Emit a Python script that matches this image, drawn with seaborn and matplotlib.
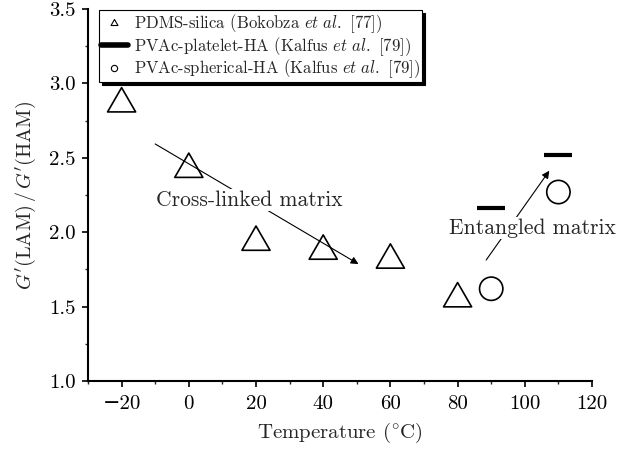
import numpy as np
import pandas as pd
import matplotlib
matplotlib.use("Agg")
import matplotlib.pyplot as plt
import seaborn as sns
from matplotlib.lines import Line2D
from matplotlib.path import Path
from matplotlib.ticker import MultipleLocator

# ---- data ----
pdms_temp = [-20, 0, 20, 40, 60, 80]
pdms_ratio = [2.89, 2.45, 1.96, 1.90, 1.84, 1.58]
platelet_temp = [90, 110]
platelet_ratio = [2.16, 2.52]
spherical_temp = [90, 110]
spherical_ratio = [1.62, 2.27]

labels = [r"PDMS-silica (Bokobza $\mathit{et\ al.}$ [77])",
          r"PVAc-platelet-HA (Kalfus $\mathit{et\ al.}$ [79])",
          r"PVAc-spherical-HA (Kalfus $\mathit{et\ al.}$ [79])"]
xticks = [-20, 0, 20, 40, 60, 80, 100, 120]
yticks = [1.0, 1.5, 2.0, 2.5, 3.0, 3.5]

sns.set_style("ticks")
plt.rcParams["font.family"] = ["cmr10", "DejaVu Serif"]
plt.rcParams["mathtext.fontset"] = "cm"
plt.rcParams["axes.unicode_minus"] = True

fig = plt.figure(figsize=(6.18, 4.51), dpi=100)
ax = fig.add_axes([88 / 618, 1 - 381 / 451, 504 / 618, 372 / 451])

tri = Path([(-1, -0.866), (1, -0.866), (0, 0.866), (-1, -0.866)],
           [Path.MOVETO, Path.LINETO, Path.LINETO, Path.CLOSEPOLY])

sns.scatterplot(x=pdms_temp, y=pdms_ratio, ax=ax, marker=tri, s=408,
                color="black", facecolor="none", edgecolor="black",
                linewidth=1.2, zorder=5)
sns.scatterplot(x=platelet_temp, y=platelet_ratio, ax=ax, marker="_", s=380,
                color="black", linewidth=3.0, zorder=5)
sns.scatterplot(x=spherical_temp, y=spherical_ratio, ax=ax, marker="o", s=282,
                color="black", facecolor="none", edgecolor="black",
                linewidth=1.2, zorder=5)

# arrows and labels
ax.annotate("", xy=(50.5, 1.786), xytext=(-10, 2.593),
            arrowprops=dict(arrowstyle="-|>", lw=0.8, color="black",
                            mutation_scale=11, shrinkA=0, shrinkB=0), zorder=3)
ax.text(18, 2.216, "Cross-linked matrix", ha="center", va="center", fontsize=15.5,
        bbox=dict(fc="white", ec="none", pad=1), zorder=4)
ax.annotate("", xy=(107.3, 2.413), xytext=(88.5, 1.813),
            arrowprops=dict(arrowstyle="-|>", lw=0.8, color="black",
                            mutation_scale=11, shrinkA=0, shrinkB=0), zorder=3)
ax.text(102.4, 2.026, "Entangled matrix", ha="center", va="center", fontsize=15.5,
        bbox=dict(fc="white", ec="none", pad=1), zorder=4, clip_on=False)

ax.set_xlim(-30, 120)
ax.set_ylim(1.0, 3.5)
ax.set_xticks(xticks)
ax.set_yticks(yticks)
ax.set_yticklabels([f"{v:.1f}" for v in yticks])
ax.xaxis.set_minor_locator(MultipleLocator(10))
ax.yaxis.set_minor_locator(MultipleLocator(0.25))
ax.tick_params(axis="both", which="major", direction="out", length=4, width=1.2,
               labelsize=15, colors="black")
ax.tick_params(axis="x", which="major", pad=6)
ax.tick_params(axis="y", which="major", pad=5)
ax.tick_params(axis="both", which="minor", direction="out", length=2.5, width=1.0)

for side in ["top", "right"]:
    ax.spines[side].set_visible(False)
for side in ["left", "bottom"]:
    ax.spines[side].set_linewidth(1.5)
    ax.spines[side].set_color("black")

ax.set_xlabel(r"Temperature ($^{\circ}$C)", fontsize=15, labelpad=6)
ax.set_ylabel(r"$G'(\mathrm{LAM})\,/\,G'(\mathrm{HAM})$", fontsize=14.5, labelpad=8)

handles = [
    Line2D([], [], marker=tri, markersize=5, markerfacecolor="none",
           markeredgecolor="black", markeredgewidth=0.8, linestyle="none"),
    Line2D([], [], color="black", lw=4),
    Line2D([], [], marker="o", markersize=4.5, markerfacecolor="none",
           markeredgecolor="black", markeredgewidth=0.8, linestyle="none"),
]
leg = ax.legend(handles, labels, loc="upper left", bbox_to_anchor=(0.022, 0.997),
                borderaxespad=0, fontsize=12, frameon=True, fancybox=False,
                shadow={"color": "black", "alpha": 1}, framealpha=1,
                edgecolor="black", handlelength=1.6, handletextpad=0.35,
                labelspacing=0.0, borderpad=0.12)
leg.get_frame().set_linewidth(0.8)

fig.savefig("out.png", dpi=100)
